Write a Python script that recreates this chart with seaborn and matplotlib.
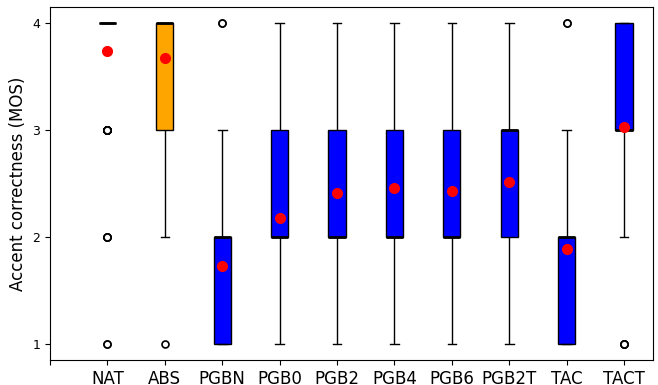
import numpy as np
import pandas as pd
import seaborn as sns
import matplotlib
matplotlib.use("Agg")
import matplotlib.pyplot as plt

## systems on the x axis
systems = ["NAT", "ABS", "PGBN", "PGB0", "PGB2", "PGB4", "PGB6", "PGB2T", "TAC", "TACT"]
## MOS score levels
scores = [1, 2, 3, 4]
## number of ratings per score (1, 2, 3, 4) for each system
count_nat = [2, 4, 12, 82]
count_abs = [1, 3, 24, 72]
count_pgbn = [39, 51, 8, 2]
count_pgb0 = [20, 45, 32, 3]
count_pgb2 = [12, 44, 35, 9]
count_pgb4 = [10, 44, 36, 10]
count_pgb6 = [11, 44, 36, 9]
count_pgb2t = [10, 38, 43, 9]
count_tac = [30, 53, 15, 2]
count_tact = [4, 15, 55, 26]

counts = [count_nat, count_abs, count_pgbn, count_pgb0, count_pgb2,
          count_pgb4, count_pgb6, count_pgb2t, count_tac, count_tact]

## long table for seaborn
rows = []
for name, c in zip(systems, counts):
    for s, n in zip(scores, c):
        rows += [(name, s)] * n
df = pd.DataFrame(rows, columns=["system", "mos"])

pal = {s: "blue" for s in systems}
pal["ABS"] = "orange"
pal["NAT"] = "white"

fig, ax = plt.subplots(figsize=(6.58, 3.85), dpi=100)
sns.boxplot(data=df, x="system", y="mos", hue="system", order=systems,
            palette=pal, legend=False, width=0.3, linecolor="black",
            linewidth=1, saturation=1, showmeans=True, ax=ax,
            medianprops=dict(color="black", linewidth=2),
            meanprops=dict(marker="o", markerfacecolor="red",
                           markeredgecolor="red", markersize=7),
            flierprops=dict(marker="o", markerfacecolor="white",
                            markeredgecolor="black", markersize=5,
                            markeredgewidth=1.2))

ax.set_xlim(-1, 9.5)
ax.set_xticks(range(-1, 10))
ax.set_xticklabels([""] + systems, fontsize=12)
ax.set_yticks(scores)
ax.tick_params(axis="y", labelsize=9)
ax.set_xlabel("")
ax.set_ylabel("Accent correctness (MOS)", fontsize=12)

fig.subplots_adjust(left=0.076, right=0.992, top=0.982, bottom=0.065)
fig.savefig("out.png", dpi=100)
